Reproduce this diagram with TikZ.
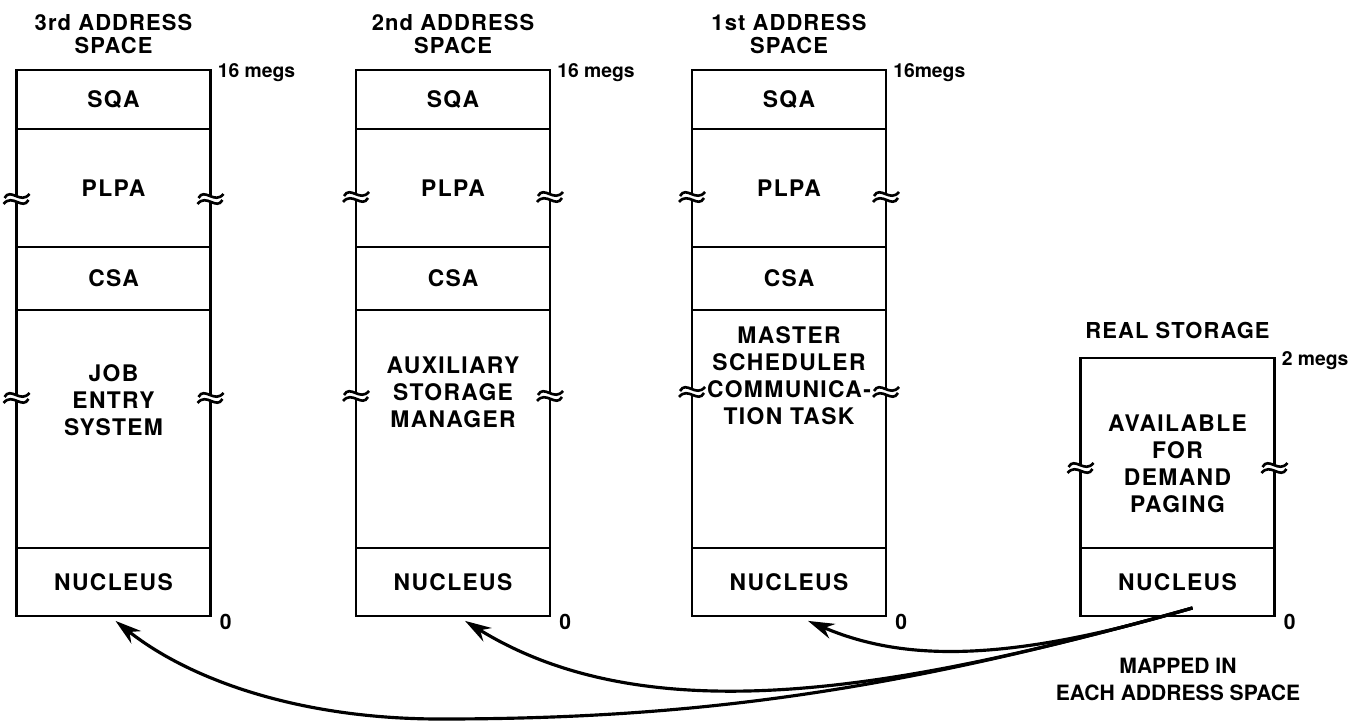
\documentclass[tikz,border=0pt]{standalone}
\usepackage{fontspec}
\usepackage{tikz}
\usetikzlibrary{arrows.meta, positioning, calc}
\setmainfont{TeX Gyre Heros}
\newfontfamily\segfont{TeX Gyre Heros}[LetterSpace=6]
\newfontfamily\headfont{TeX Gyre Heros}[LetterSpace=5]

\tikzset{
    brk/.pic={
        \fill[white] (-4,-3) rectangle (4,3);
        \draw (-12,-1) .. controls (-6,-12) and (4,6) .. (13,-5);
        \draw (-13,5) .. controls (-4,-6) and (6,12) .. (12,1);
    }
}

\begin{document}
\begin{tikzpicture}[
            x=0.02cm, y=-0.02cm,
            node distance=0pt,
            line width=1.5pt,
            segment/.style={rectangle, draw, minimum width=3.88cm, outer sep=0pt, inner sep=0pt, align=center, font=\segfont\bfseries\fontsize{13}{15.4}\selectfont},
            sqa/.style={segment, minimum height=1.18cm},
            plpa/.style={segment, minimum height=2.36cm},
            csa/.style={segment, minimum height=1.26cm},
            bigseg/.style={segment, minimum height=4.76cm},
            nuc/.style={segment, minimum height=1.36cm},
            seglabel/.style={inner sep=0pt, align=center, font=\segfont\bfseries\fontsize{13}{15.4}\selectfont},
            title/.style={inner sep=0pt, align=center, font=\headfont\bfseries\fontsize{12.5}{13}\selectfont},
            megs/.style={inner sep=0pt, font=\bfseries\fontsize{11}{12}\selectfont},
            mapnote/.style={inner sep=0pt, align=center, font=\bfseries\fontsize{12}{15.4}\selectfont},
            maparrow/.style={-{Stealth[length=15pt, width=9pt]}, line width=1.8pt}
        ]
            \useasboundingbox (0,0) rectangle (1361,723);

% 3rd address space
            \node[sqa, anchor=north] (sqa1) at (113.5,70) {SQA};
            \node[plpa, below=of sqa1] (plpa1) {PLPA};
            \node[csa, below=of plpa1] (csa1) {CSA};
            \node[bigseg, below=of csa1] (job1) {};
            \node[nuc, below=of job1] (nuc1) {NUCLEUS};
            \node[seglabel] (jobtxt) at ($(job1.north)+(0,90)$) {JOB\\ENTRY\\SYSTEM};

% 2nd address space
            \node[sqa, anchor=north] (sqa2) at (453,70) {SQA};
            \node[plpa, below=of sqa2] (plpa2) {PLPA};
            \node[csa, below=of plpa2] (csa2) {CSA};
            \node[bigseg, below=of csa2] (aux2) {};
            \node[nuc, below=of aux2] (nuc2) {NUCLEUS};
            \node[seglabel] (auxtxt) at ($(aux2.north)+(0,82)$) {AUXILIARY\\STORAGE\\MANAGER};

% 1st address space
            \node[sqa, anchor=north] (sqa3) at (789,70) {SQA};
            \node[plpa, below=of sqa3] (plpa3) {PLPA};
            \node[csa, below=of plpa3] (csa3) {CSA};
            \node[bigseg, below=of csa3] (mst3) {};
            \node[nuc, below=of mst3] (nuc3) {NUCLEUS};
            \node[seglabel] (msttxt) at ($(mst3.north)+(0,66)$) {MASTER\\SCHEDULER\\COMMUNICA-\\TION TASK};

% Real storage
            \node[segment, minimum height=3.8cm, anchor=north] (avail) at (1177.5,358) {};
            \node[nuc, below=of avail] (nucR) {NUCLEUS};
            \node[seglabel] (availtxt) at ($(avail.north)+(0,106)$) {AVAILABLE\\FOR\\DEMAND\\PAGING};

% Titles
            \node[title, above=0.3cm of sqa1] (head1) {3rd ADDRESS\\SPACE};
            \node[title, above=0.3cm of sqa2] (head2) {2nd ADDRESS\\SPACE};
            \node[title, above=0.3cm of sqa3] (head3) {1st ADDRESS\\SPACE};
            \node[title, above=0.36cm of avail] (headR) {REAL STORAGE};

% Sizes
            \node[megs, anchor=west] (top1) at ($(sqa1.north east)+(6,3)$) {16 megs};
            \node[megs, anchor=west] (top2) at ($(sqa2.north east)+(6,3)$) {16 megs};
            \node[megs, anchor=west] (top3) at ($(sqa3.north east)+(6,3)$) {16megs};
            \node[megs, anchor=west] (topR) at ($(avail.north east)+(6,3)$) {2 megs};
            \node[megs, anchor=west, font=\bfseries\fontsize{12}{12}\selectfont] (zero1) at ($(nuc1.south east)+(8,6)$) {0};
            \node[megs, anchor=west, font=\bfseries\fontsize{12}{12}\selectfont] (zero2) at ($(nuc2.south east)+(8,6)$) {0};
            \node[megs, anchor=west, font=\bfseries\fontsize{12}{12}\selectfont] (zero3) at ($(nuc3.south east)+(8,6)$) {0};
            \node[megs, anchor=west, font=\bfseries\fontsize{12}{12}\selectfont] (zeroR) at ($(nucR.south east)+(8,6)$) {0};

% Breaks
            \pic at ($(plpa1.north west)+(0,70)$) {brk};
            \pic at ($(plpa1.north east)+(0,70)$) {brk};
            \pic at ($(job1.north west)+(0,88)$) {brk};
            \pic at ($(job1.north east)+(0,88)$) {brk};
            \pic at ($(plpa2.north west)+(0,68)$) {brk};
            \pic at ($(plpa2.north east)+(0,68)$) {brk};
            \pic at ($(aux2.north west)+(0,86)$) {brk};
            \pic at ($(aux2.north east)+(0,86)$) {brk};
            \pic at ($(plpa3.north west)+(0,68)$) {brk};
            \pic at ($(plpa3.north east)+(0,68)$) {brk};
            \pic at ($(mst3.north west)+(0,82)$) {brk};
            \pic at ($(mst3.north east)+(0,82)$) {brk};
            \pic at ($(avail.north west)+(0,110)$) {brk};
            \pic at ($(avail.north east)+(0,110)$) {brk};

% Edges
            \coordinate (src) at ($(nucR.south)+(15,-8)$);
            \coordinate (tip1) at ($(nuc1.south)+(2,5)$);
            \coordinate (tip2) at ($(nuc2.south)+(12,5)$);
            \coordinate (tip3) at ($(nuc3.south)+(19,5)$);
            \coordinate (dip) at (440,719);
            \draw[maparrow] (src) .. controls (1000,665) and (900,660) .. (tip3);
            \draw[maparrow] (src) .. controls (900,690) and (650,735) .. (tip2);
            \draw[maparrow] (src) .. controls (900,690) and (700,719) .. (dip) .. controls (300,719) and (190,680) .. (tip1);

% Annotations
            \node[mapnote] (mapped) at (1178,679) {MAPPED IN\\EACH ADDRESS SPACE};

        \end{tikzpicture}
\end{document}
